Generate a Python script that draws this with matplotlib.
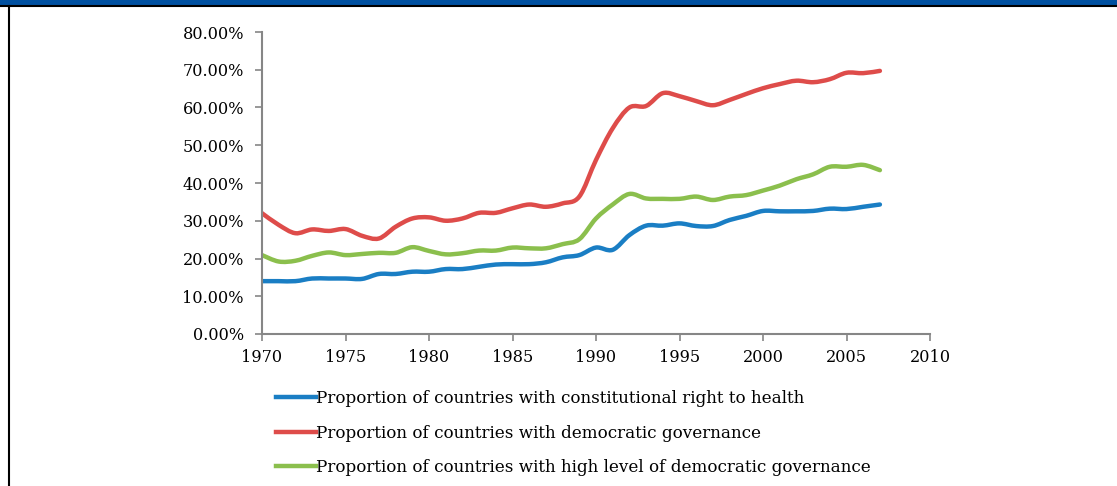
import numpy as np
import matplotlib
matplotlib.use("Agg")
import matplotlib.pyplot as plt
from matplotlib.path import Path
from matplotlib.patches import PathPatch, Rectangle
from matplotlib.lines import Line2D
from matplotlib.ticker import FuncFormatter, MultipleLocator

years = list(range(1970, 2008))

right_to_health = [14.0, 14.0, 14.0, 14.7, 14.7, 14.7, 14.6, 15.9, 15.9, 16.5,
                   16.5, 17.2, 17.2, 17.8, 18.4, 18.5, 18.5, 19.0, 20.3, 20.9,
                   22.9, 22.3, 26.2, 28.7, 28.7, 29.3, 28.6, 28.6, 30.2, 31.3,
                   32.6, 32.5, 32.5, 32.6, 33.2, 33.1, 33.7, 34.3]

democratic = [32.0, 28.9, 26.7, 27.7, 27.3, 27.8, 26.0, 25.3, 28.4, 30.6,
              30.9, 30.0, 30.6, 32.1, 32.1, 33.3, 34.3, 33.7, 34.6, 36.4,
              46.1, 54.5, 60.0, 60.4, 63.8, 63.0, 61.7, 60.6, 62.0, 63.6,
              65.1, 66.2, 67.1, 66.7, 67.5, 69.2, 69.1, 69.7]

high_democratic = [20.9, 19.2, 19.4, 20.7, 21.6, 20.9, 21.2, 21.5, 21.5, 23.0,
                   22.0, 21.1, 21.4, 22.1, 22.1, 22.9, 22.7, 22.7, 23.8, 25.1,
                   30.6, 34.3, 37.1, 35.9, 35.8, 35.8, 36.4, 35.5, 36.4, 36.8,
                   38.0, 39.3, 41.0, 42.3, 44.3, 44.3, 44.8, 43.4]

labels = ["Proportion of countries with constitutional right to health",
          "Proportion of countries with democratic governance",
          "Proportion of countries with high level of democratic governance"]
colors = ["#1a7ec4", "#de4c4a", "#8bbf4d"]

plt.rcParams['font.family'] = ['DejaVu Serif']
FS_TICK = 11.6
FS_LEG = 12.1

fig = plt.figure(figsize=(11.17, 4.86), dpi=100)
W, H = 1117, 486
ax = fig.add_axes([262 / W, (H - 334) / H, (930 - 262) / W, (334 - 32) / H])


def smooth_path(x, y):
    """Excel-like smoothed Bezier path through the data points."""
    x = np.asarray(x, float)
    y = np.asarray(y, float)
    verts = [(x[0], y[0])]
    codes = [Path.MOVETO]
    n = len(x)
    for i in range(n - 1):
        p0 = (x[max(i - 1, 0)], y[max(i - 1, 0)])
        p1 = (x[i], y[i])
        p2 = (x[i + 1], y[i + 1])
        p3 = (x[min(i + 2, n - 1)], y[min(i + 2, n - 1)])
        c1 = (p1[0] + (p2[0] - p0[0]) / 6, p1[1] + (p2[1] - p0[1]) / 6)
        c2 = (p2[0] - (p3[0] - p1[0]) / 6, p2[1] - (p3[1] - p1[1]) / 6)
        verts += [c1, c2, p2]
        codes += [Path.CURVE4] * 3
    return Path(verts, codes)


for series, c in zip([right_to_health, democratic, high_democratic], colors):
    patch = PathPatch(smooth_path(years, series), facecolor='none',
                      edgecolor=c, lw=3.2, capstyle='round', joinstyle='round')
    ax.add_patch(patch)

ax.set_xlim(1970, 2010)
ax.set_ylim(0, 80)
ax.xaxis.set_major_locator(MultipleLocator(5))
ax.yaxis.set_major_locator(MultipleLocator(10))
ax.yaxis.set_major_formatter(FuncFormatter(lambda v, p: f"{v:.2f}%"))

for s in ['top', 'right']:
    ax.spines[s].set_visible(False)
for s in ['left', 'bottom']:
    ax.spines[s].set_color('#868686')
    ax.spines[s].set_linewidth(1.5)
ax.tick_params(axis='both', colors='#868686', length=5, width=1.2,
               labelcolor='black', labelsize=FS_TICK)
ax.tick_params(axis='y', pad=8)
ax.tick_params(axis='x', pad=6)

handles = [Line2D([], [], color=c, lw=3.2) for c in colors]
fig.legend(handles, labels, loc='upper left',
           bbox_to_anchor=(276 / W, 1 - 390 / H), frameon=False,
           fontsize=FS_LEG, handlelength=2.4, handletextpad=0.0,
           labelspacing=1.05, borderaxespad=0, borderpad=0)

# header bar and frame
fig.patches.append(Rectangle((0, 1 - 5 / H), 1, 5 / H, transform=fig.transFigure,
                             facecolor='#0050a0', edgecolor='none'))
fig.lines.append(Line2D([0, 1], [1 - 6 / H, 1 - 6 / H], transform=fig.transFigure,
                        color='black', lw=1.5))
fig.lines.append(Line2D([8.5 / W, 8.5 / W], [0, 1 - 6 / H], transform=fig.transFigure,
                        color='black', lw=1.5))

fig.savefig("out.png", dpi=100)
